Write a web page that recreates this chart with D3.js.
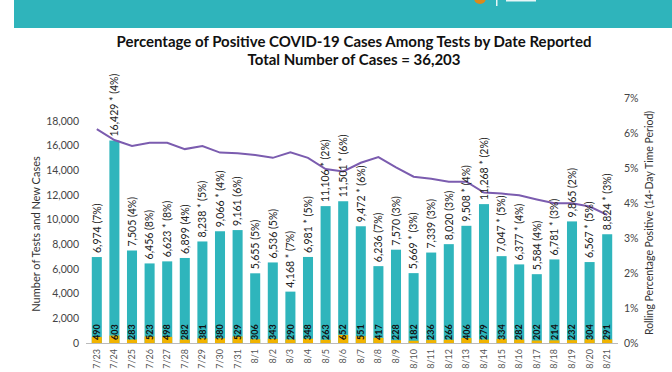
<!DOCTYPE html>
<html>
<head>
<meta charset="utf-8">
<title>Percentage of Positive COVID-19 Cases</title>
<script src="https://d3js.org/d3.v7.min.js"></script>
<style>
  body { margin: 0; background: #fff; }
  svg { display: block; font-family: Lato, "Open Sans", sans-serif; }
  .title { font-weight: bold; font-size: 15px; fill: #111; text-anchor: middle; }
  .tick_label { font-size: 10.5px; fill: #444; }
  .axis_title { font-size: 11px; fill: #333; text-anchor: middle; }
  .date_label { font-size: 9px; fill: #555; }
  .bar_label { font-size: 10.5px; fill: #222; }
  .case_label { font-size: 9px; font-weight: bold; fill: #111; }
</style>
</head>
<body>
<div id="chart"></div>
<script>
// data
var dates = ["7/23","7/24","7/25","7/26","7/27","7/28","7/29","7/30","7/31","8/1","8/2","8/3","8/4","8/5","8/6",
             "8/7","8/8","8/9","8/10","8/11","8/12","8/13","8/14","8/15","8/16","8/17","8/18","8/19","8/20","8/21"];
var tests = [6974,16429,7505,6456,6623,6899,8238,9066,9161,5655,6536,4168,6981,11106,11501,
             9472,6236,7570,5669,7339,8020,9508,11268,7047,6377,5584,6781,9865,6567,8824];
var cases = [490,603,283,523,498,282,381,380,529,306,343,290,348,263,652,
             551,417,228,182,236,266,406,279,334,282,202,214,232,304,291];
var dailyPct = [7,4,4,8,8,4,5,4,6,5,5,7,5,2,6,6,7,3,3,3,3,4,2,5,4,4,3,2,5,3];
var starred = [0,1,0,0,1,0,1,1,0,0,0,1,1,1,1,1,0,0,1,0,0,1,1,1,1,0,1,0,1,1];
var rollingPct = [6.11,5.80,5.63,5.72,5.72,5.54,5.63,5.44,5.42,5.37,5.29,5.45,5.29,4.97,4.90,
                  5.15,5.31,5.02,4.75,4.69,4.61,4.61,4.30,4.27,4.22,4.10,3.99,3.99,3.90,3.66];
var leftTicks = [0,2000,4000,6000,8000,10000,12000,14000,16000,18000];
var rightTicks = [0,1,2,3,4,5,6,7];

var W = 672, H = 372;
var svg = d3.select("#chart").append("svg").attr("width", W).attr("height", H);

// header band
svg.append("rect").attr("x", 14).attr("y", 0).attr("width", W - 14).attr("height", 28).attr("fill", "#2fb4bb");
svg.append("circle").attr("cx", 480).attr("cy", -2).attr("r", 6).attr("fill", "#d98a1c");
svg.append("rect").attr("x", 496).attr("y", 0).attr("width", 1.5).attr("height", 6).attr("fill", "#e8f6f7");
svg.append("rect").attr("x", 506).attr("y", 0).attr("width", 30).attr("height", 1.5).attr("fill", "#e8f6f7");

svg.append("text").attr("class", "title").attr("x", 354).attr("y", 47)
  .text("Percentage of Positive COVID-19 Cases Among Tests by Date Reported");
svg.append("text").attr("class", "title").attr("x", 354).attr("y", 65)
  .text("Total Number of Cases = 36,203");

var x = d3.scaleBand().domain(dates).range([88, 616]).paddingInner(0.43).paddingOuter(0.215);
var y = d3.scaleLinear().domain([0, 20000]).range([343, 96.5]);
var y2 = d3.scaleLinear().domain([0, 7]).range([343, 98]);

var rows = dates.map(function(d, i) {
  return { date: d, tests: tests[i], cases: cases[i], pct: dailyPct[i], star: starred[i], roll: rollingPct[i] };
});

// left axis labels
svg.selectAll(".lt").data(leftTicks).enter().append("text")
  .attr("class", "tick_label").attr("text-anchor", "end")
  .attr("x", 79).attr("y", function(d) { return y(d); }).attr("dy", "0.35em")
  .text(function(d) { return d3.format(",")(d); });

// right axis labels
svg.selectAll(".rt").data(rightTicks).enter().append("text")
  .attr("class", "tick_label").attr("text-anchor", "start")
  .attr("x", 624).attr("y", function(d) { return y2(d); }).attr("dy", "0.35em")
  .text(function(d) { return d + "%"; });

svg.append("text").attr("class", "axis_title")
  .attr("transform", "translate(40,234) rotate(-90)")
  .text("Number of Tests and New Cases");
svg.append("text").attr("class", "axis_title").style("font-size", "10.5px")
  .attr("transform", "translate(653,223) rotate(-90)")
  .text("Rolling Percentage Positive (14-Day Time Period)");

// bars
svg.selectAll(".bar").data(rows).enter().append("rect")
  .attr("class", "bar").attr("fill", "#2fb5bc")
  .attr("x", function(d) { return x(d.date); })
  .attr("width", x.bandwidth())
  .attr("y", function(d) { return y(d.tests); })
  .attr("height", function(d) { return y(0) - y(d.tests); });

svg.selectAll(".case").data(rows).enter().append("rect")
  .attr("fill", "#f2b400")
  .attr("x", function(d) { return x(d.date); })
  .attr("width", x.bandwidth())
  .attr("y", function(d) { return y(d.cases); })
  .attr("height", function(d) { return y(0) - y(d.cases); });

// baseline
svg.append("line").attr("x1", 86).attr("x2", 618).attr("y1", 343.5).attr("y2", 343.5)
  .attr("stroke", "#bbb").attr("stroke-width", 1);

// rolling percentage line
var line = d3.line()
  .x(function(d) { return x(d.date) + x.bandwidth() / 2; })
  .y(function(d) { return y2(d.roll); });
svg.append("path").datum(rows).attr("d", line)
  .attr("fill", "none").attr("stroke", "#7b5caf").attr("stroke-width", 2);

// labels above bars
svg.selectAll(".bl").data(rows).enter().append("text")
  .attr("class", "bar_label")
  .attr("transform", function(d) {
    return "translate(" + (x(d.date) + x.bandwidth() / 2 + 3.7) + "," + (y(d.tests) - 4) + ") rotate(-90)";
  })
  .text(function(d) { return d3.format(",")(d.tests) + (d.star ? " * " : "  ") + "(" + d.pct + "%)"; });

// case counts inside bars
svg.selectAll(".cl").data(rows).enter().append("text")
  .attr("class", "case_label")
  .attr("transform", function(d) {
    return "translate(" + (x(d.date) + x.bandwidth() / 2 + 3.2) + ",340) rotate(-90)";
  })
  .text(function(d) { return d.cases; });

// date labels
svg.selectAll(".dl").data(rows).enter().append("text")
  .attr("class", "date_label").attr("text-anchor", "end")
  .attr("transform", function(d) {
    return "translate(" + (x(d.date) + x.bandwidth() / 2 + 3) + ",349) rotate(-90)";
  })
  .text(function(d) { return d.date; });
</script>
</body>
</html>
